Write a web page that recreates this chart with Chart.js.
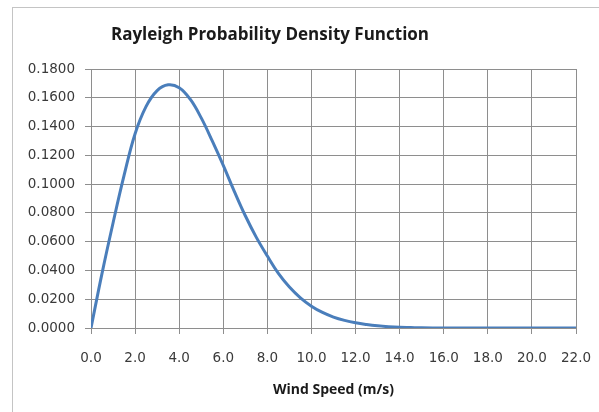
<!DOCTYPE html>
<html>
<head>
<meta charset="utf-8">
<script src="https://cdn.jsdelivr.net/npm/chart.js@4.4.1/dist/chart.umd.min.js"></script>
<style>
  html, body { margin: 0; padding: 0; background: #ffffff; }
  #wrap { position: relative; width: 599px; height: 412px; overflow: hidden; }
  #frame { position: absolute; left: 12px; top: 7px; width: 600px; height: 420px;
           border-left: 1px solid #c4c4c4; border-top: 1px solid #c4c4c4; }
  canvas { position: absolute; left: 0; top: 0; }
</style>
</head>
<body>
<div id="wrap">
  <div id="frame"></div>
  <canvas id="c" width="599" height="412"></canvas>
</div>
<script>
// ---- data ----
const chartTitle = "Rayleigh Probability Density Function";
const xAxisTitle = "Wind Speed (m/s)";
const windSpeed = [0, 0.5, 1.0, 1.5, 2.0, 2.5, 3.0, 3.5, 4.0, 4.5, 5.0, 5.5, 6.0, 6.5, 7.0, 7.5, 8.0, 8.5, 9.0, 9.5, 10.0, 10.5, 11.0, 11.5, 12.0, 12.5, 13.0, 13.5, 14.0, 14.5, 15.0, 16.0, 17.0, 18.0, 19.0, 20.0, 21.0, 22.0];
const density   = [0, 0.038, 0.073, 0.106, 0.135, 0.154, 0.165, 0.169, 0.167, 0.159, 0.146, 0.130, 0.113, 0.095, 0.078, 0.063, 0.050, 0.038, 0.0285, 0.021, 0.0152, 0.0108, 0.0076, 0.0053, 0.0036, 0.0024, 0.0015, 0.0009, 0.0005, 0.0003, 0.0001, 0, 0, 0, 0, 0, 0, 0];
const xTickStep = 2;
const yTickStep = 0.02;
const xMin = 0, xMax = 22;
const yMin = 0, yMax = 0.18;

const points = windSpeed.map((x, i) => ({ x: x, y: density[i] }));

const titlePlugin = {
  id: 'titleText',
  afterDraw(chart) {
    const ctx = chart.ctx;
    ctx.save();
    ctx.font = 'bold 17px "Open Sans"';
    ctx.fillStyle = '#1a1a1a';
    ctx.textAlign = 'center';
    ctx.textBaseline = 'middle';
    ctx.fillText(chartTitle, 270, 35);
    ctx.restore();
  }
};

const gridColor = '#8e8e8e';
const tickFont = { family: 'DejaVu Sans', size: 13.5 };

new Chart(document.getElementById('c'), {
  type: 'line',
  data: {
    datasets: [{
      data: points,
      borderColor: '#4a7ebb',
      borderWidth: 3,
      pointRadius: 0,
      fill: false,
      tension: 0.4
    }]
  },
  options: {
    responsive: false,
    animation: false,
    layout: { padding: { top: 69, right: 23, left: 0, bottom: 0 } },
    plugins: { legend: { display: false }, title: { display: false }, tooltip: { enabled: false } },
    scales: {
      x: {
        type: 'linear',
        min: xMin, max: xMax,
        afterFit(s) { s.height = 84; s.paddingLeft = 0; s.paddingRight = 15; },
        ticks: {
          stepSize: xTickStep,
          color: '#3a3a3a',
          font: tickFont,
          padding: 16,
          maxRotation: 0,
          callback: v => Number(v).toFixed(1)
        },
        grid: { color: gridColor, lineWidth: 1, tickLength: 6, drawTicks: true },
        border: { color: gridColor, width: 1 },
        title: {
          display: true,
          text: xAxisTitle,
          color: '#1a1a1a',
          font: { family: 'Open Sans', size: 14, weight: 'bold' },
          padding: { top: 4, bottom: 14 }
        }
      },
      y: {
        min: yMin, max: yMax,
        afterFit(s) { s.width = 91; },
        ticks: {
          stepSize: yTickStep,
          color: '#3a3a3a',
          font: tickFont,
          padding: 10,
          callback: v => Number(v).toFixed(4)
        },
        grid: { color: gridColor, lineWidth: 1, tickLength: 6, drawTicks: true },
        border: { color: gridColor, width: 1 }
      }
    }
  },
  plugins: [titlePlugin]
});
</script>
</body>
</html>
